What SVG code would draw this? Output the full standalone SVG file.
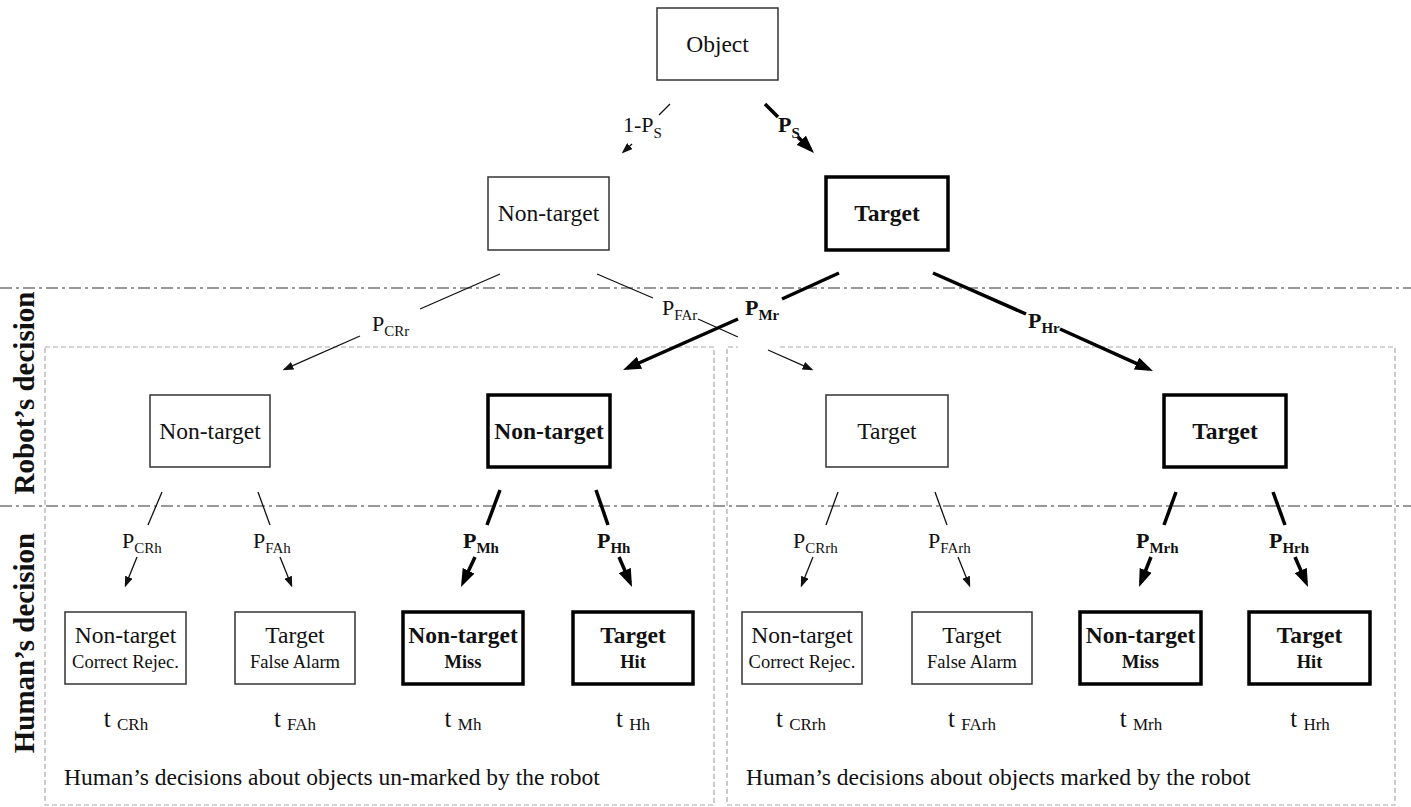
<svg xmlns="http://www.w3.org/2000/svg" width="1411" height="807" viewBox="0 0 1411 807">
<style>
text{font-family:"Liberation Serif","Times New Roman",serif;fill:#111}
.box{fill:#fff;stroke:#333;stroke-width:1.5}
.boxb{fill:#fff;stroke:#000;stroke-width:3.5}
.nt{font-size:23.5px;text-anchor:middle}
.sm{font-size:18.5px;text-anchor:middle}
.b{font-weight:bold}
.ln{stroke:#111;stroke-width:1.3;fill:none}
.lnb{stroke:#000;stroke-width:3.5;fill:none}
.a{marker-end:url(#arr)}
.ab{marker-end:url(#arrB)}
.dd{stroke:#999;stroke-width:2;stroke-dasharray:12 4 3 4;fill:none}
.dash{stroke:#aaa;stroke-width:1.2;stroke-dasharray:5 3;fill:none}
.p{font-size:22px}
.sub{font-size:15px}
.tl{font-size:25px;text-anchor:middle}
.tsub{font-size:17px}
.cap{font-size:23.5px}
.side{font-size:29px;font-weight:bold;text-anchor:middle}
</style>
<defs>
<marker id="arr" markerUnits="userSpaceOnUse" markerWidth="11" markerHeight="8" refX="8.5" refY="4" orient="auto">
<path d="M0,0 L11,4 L0,8 z" fill="#111"/>
</marker>
<marker id="arrB" markerUnits="userSpaceOnUse" markerWidth="18" markerHeight="13" refX="13" refY="6.5" orient="auto">
<path d="M0,0 L18,6.5 L0,13 z" fill="#000"/>
</marker>
</defs>
<rect width="1411" height="807" fill="#fff"/>

<g id="bands">
<line class="dd" x1="0" y1="288" x2="1411" y2="288"/>
<line class="dd" x1="0" y1="506" x2="1411" y2="506"/>
<text class="side" transform="translate(34,393) rotate(-90)">Robot’s decision</text>
<text class="side" transform="translate(34,643) rotate(-90)">Human’s decision</text>
</g>

<g id="group-unmarked">
<rect class="dash" x="45" y="347" width="669" height="458"/>
<text class="cap" x="64" y="785">Human’s decisions about objects un-marked by the robot</text>
</g>
<g id="group-marked">
<path class="dash" d="M780,347 H1395 V805 H727 V347 H738"/>
<text class="cap" x="746" y="785">Human’s decisions about objects marked by the robot</text>
</g>

<g id="connectors">
<line class="ln" x1="670" y1="104" x2="659" y2="115"/>
<line class="ln a" x1="632" y1="144" x2="623.5" y2="151.7"/>
<text class="p" x="623" y="132">1-P<tspan class="sub" dy="6">S</tspan></text>
<line class="lnb" x1="765" y1="104" x2="778" y2="117"/>
<line class="lnb ab" x1="798" y1="137" x2="810.5" y2="149.5"/>
<text class="p b" x="778" y="132">P<tspan class="sub" dy="6">S</tspan></text>

<line class="ln" x1="500" y1="274" x2="420" y2="309"/>
<line class="ln a" x1="360" y1="336" x2="284.8" y2="369.2"/>
<text class="p" x="372" y="331">P<tspan class="sub" dy="5">CRr</tspan></text>
<line class="ln" x1="597" y1="274" x2="653" y2="298"/>
<line class="ln" x1="698" y1="319" x2="738" y2="337"/>
<line class="ln a" x1="768" y1="350" x2="811.2" y2="369.2"/>
<text class="p" x="662" y="315">P<tspan class="sub" dy="5">FAr</tspan></text>
<line class="lnb" x1="839" y1="273" x2="782" y2="299"/>
<line class="lnb ab" x1="738" y1="319" x2="627.6" y2="368"/>
<text class="p b" x="745" y="315">P<tspan class="sub" dy="5">Mr</tspan></text>
<line class="lnb" x1="933" y1="273" x2="1026" y2="314"/>
<line class="lnb ab" x1="1060" y1="329" x2="1148.4" y2="368.9"/>
<text class="p b" x="1028" y="328">P<tspan class="sub" dy="5">Hr</tspan></text>

<line class="ln" x1="162" y1="492" x2="148" y2="525"/>
<line class="ln a" x1="137" y1="557" x2="125.7" y2="585.1"/>
<text class="p" x="122" y="548">P<tspan class="sub" dy="5">CRh</tspan></text>
<line class="ln" x1="258" y1="492" x2="270" y2="525"/>
<line class="ln a" x1="280" y1="557" x2="291.3" y2="585.1"/>
<text class="p" x="253" y="548">P<tspan class="sub" dy="5">FAh</tspan></text>
<line class="lnb" x1="500" y1="490" x2="487" y2="525"/>
<line class="lnb ab" x1="475" y1="557" x2="463.1" y2="582.5"/>
<text class="p b" x="463" y="548">P<tspan class="sub" dy="5">Mh</tspan></text>
<line class="lnb" x1="596" y1="490" x2="608" y2="525"/>
<line class="lnb ab" x1="619" y1="557" x2="630" y2="582.4"/>
<text class="p b" x="597" y="548">P<tspan class="sub" dy="5">Hh</tspan></text>

<line class="ln" x1="838" y1="492" x2="826" y2="525"/>
<line class="ln a" x1="813" y1="557" x2="801.7" y2="585.1"/>
<text class="p" x="793" y="548">P<tspan class="sub" dy="5">CRrh</tspan></text>
<line class="ln" x1="935" y1="492" x2="947" y2="525"/>
<line class="ln a" x1="958" y1="557" x2="969.3" y2="585.1"/>
<text class="p" x="928" y="548">P<tspan class="sub" dy="5">FArh</tspan></text>
<line class="lnb" x1="1176" y1="492" x2="1164" y2="525"/>
<line class="lnb ab" x1="1151" y1="557" x2="1140.9" y2="582.4"/>
<text class="p b" x="1136" y="548">P<tspan class="sub" dy="5">Mrh</tspan></text>
<line class="lnb" x1="1273" y1="492" x2="1285" y2="525"/>
<line class="lnb ab" x1="1295" y1="557" x2="1306" y2="582.4"/>
<text class="p b" x="1269" y="548">P<tspan class="sub" dy="5">Hrh</tspan></text>
</g>

<g id="object"><rect class="box" x="657" y="8" width="121" height="72"/><text class="nt" x="717.5" y="52">Object</text></g>

<g id="l2-nontarget"><rect class="box" x="488" y="177" width="121" height="73"/><text class="nt" x="548.5" y="221">Non-target</text></g>
<g id="l2-target"><rect class="boxb" x="826" y="177" width="122" height="73"/><text class="nt b" x="887" y="221">Target</text></g>

<g id="r-nontarget-a"><rect class="box" x="150" y="395" width="120" height="72"/><text class="nt" x="210" y="439">Non-target</text></g>
<g id="r-nontarget-b"><rect class="boxb" x="488" y="395" width="122" height="72"/><text class="nt b" x="549" y="439">Non-target</text></g>
<g id="r-target-a"><rect class="box" x="826" y="395" width="122" height="72"/><text class="nt" x="887" y="439">Target</text></g>
<g id="r-target-b"><rect class="boxb" x="1164" y="395" width="122" height="72"/><text class="nt b" x="1225" y="439">Target</text></g>

<g id="h-crh"><rect class="box" x="65" y="612" width="121" height="72"/><text class="nt" x="125.5" y="643">Non-target</text><text class="sm" x="125.5" y="668">Correct Rejec.</text><text class="tl" x="126" y="727">t <tspan class="tsub" dy="3">CRh</tspan></text></g>
<g id="h-fah"><rect class="box" x="235" y="612" width="120" height="72"/><text class="nt" x="295" y="643">Target</text><text class="sm" x="295" y="668">False Alarm</text><text class="tl" x="295" y="727">t <tspan class="tsub" dy="3">FAh</tspan></text></g>
<g id="h-mh"><rect class="boxb" x="403" y="612" width="120" height="72"/><text class="nt b" x="463" y="643">Non-target</text><text class="sm b" x="463" y="668">Miss</text><text class="tl" x="463" y="727">t <tspan class="tsub" dy="3">Mh</tspan></text></g>
<g id="h-hh"><rect class="boxb" x="573" y="612" width="120" height="72"/><text class="nt b" x="633" y="643">Target</text><text class="sm b" x="633" y="668">Hit</text><text class="tl" x="633" y="727">t <tspan class="tsub" dy="3">Hh</tspan></text></g>

<g id="h-crrh"><rect class="box" x="742" y="612" width="120" height="72"/><text class="nt" x="802" y="643">Non-target</text><text class="sm" x="802" y="668">Correct Rejec.</text><text class="tl" x="801" y="727">t <tspan class="tsub" dy="3">CRrh</tspan></text></g>
<g id="h-farh"><rect class="box" x="912" y="612" width="120" height="72"/><text class="nt" x="972" y="643">Target</text><text class="sm" x="972" y="668">False Alarm</text><text class="tl" x="972" y="727">t <tspan class="tsub" dy="3">FArh</tspan></text></g>
<g id="h-mrh"><rect class="boxb" x="1080" y="612" width="121" height="72"/><text class="nt b" x="1140.5" y="643">Non-target</text><text class="sm b" x="1140.5" y="668">Miss</text><text class="tl" x="1141" y="727">t <tspan class="tsub" dy="3">Mrh</tspan></text></g>
<g id="h-hrh"><rect class="boxb" x="1249" y="612" width="121" height="72"/><text class="nt b" x="1309.5" y="643">Target</text><text class="sm b" x="1309.5" y="668">Hit</text><text class="tl" x="1310" y="727">t <tspan class="tsub" dy="3">Hrh</tspan></text></g>
</svg>
